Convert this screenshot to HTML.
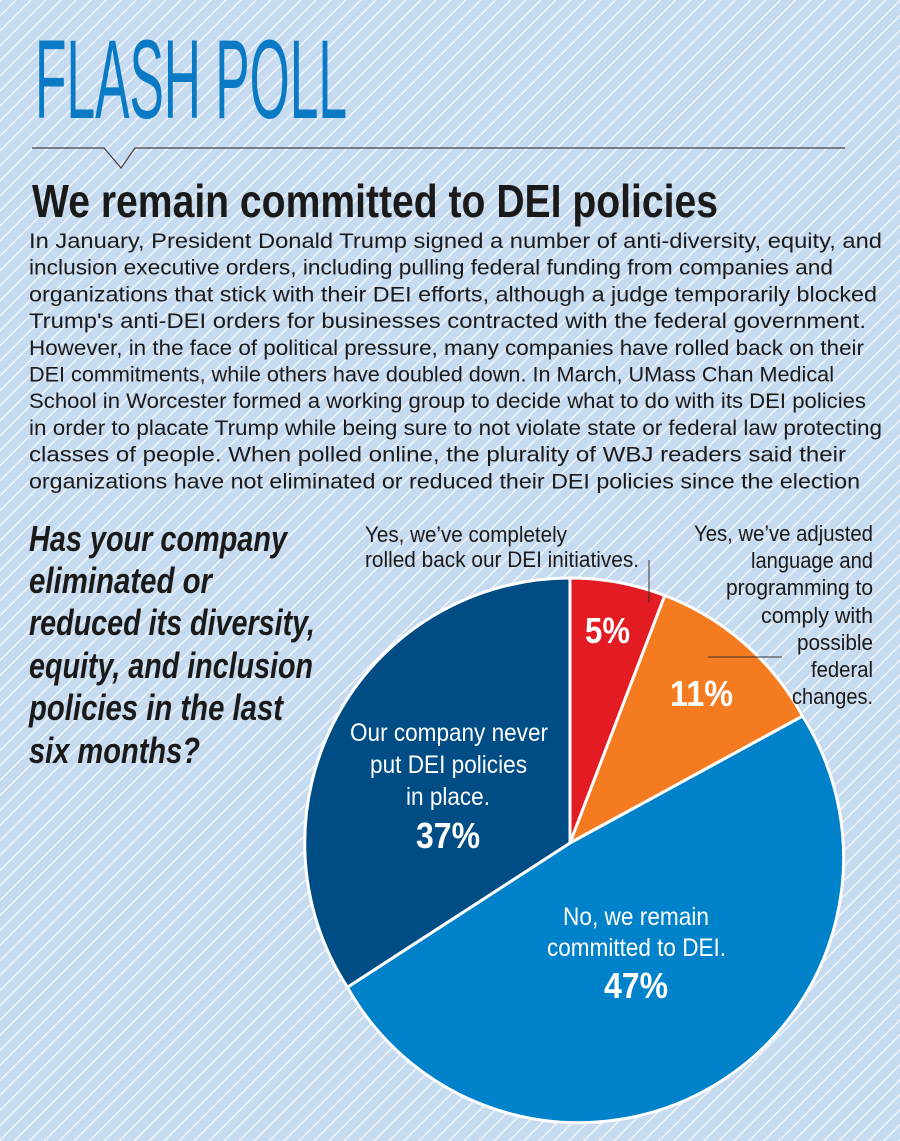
<!DOCTYPE html>
<html><head><meta charset="utf-8"><style>
html,body{margin:0;padding:0;width:900px;height:1141px;overflow:hidden;background:#c6dbef}
svg{display:block}
</style></head><body>
<svg width="900" height="1141" viewBox="0 0 900 1141" xmlns="http://www.w3.org/2000/svg">
<defs>
<pattern id="st" width="10.6" height="10.6" patternUnits="userSpaceOnUse" patternTransform="rotate(45)">
<rect width="10.6" height="10.6" fill="#c6dbef"/>
<rect x="0" y="0" width="1.4" height="10.6" fill="#f2f7fc"/>
</pattern>
</defs>
<rect width="900" height="1141" fill="url(#st)"/>
<text x="35" y="118" font-family="Liberation Sans, sans-serif" font-size="112" fill="#0a7ac4" textLength="312" lengthAdjust="spacingAndGlyphs">FLASH POLL</text>
<polyline points="32,148 104,148 121,168 135,148 845,148" fill="none" stroke="#444" stroke-width="1.3"/>
<text x="32" y="217" font-family="Liberation Sans, sans-serif" font-weight="bold" font-size="46" fill="#1a1a1a" textLength="686" lengthAdjust="spacingAndGlyphs">We remain committed to DEI policies</text>
<g font-family="Liberation Sans, sans-serif" font-size="21.5" fill="#1a1a1a">
<text x="29" y="248" textLength="853" lengthAdjust="spacingAndGlyphs">In January, President Donald Trump signed a number of anti-diversity, equity, and</text>
<text x="29" y="274.7" textLength="804" lengthAdjust="spacingAndGlyphs">inclusion executive orders, including pulling federal funding from companies and</text>
<text x="29" y="301.4" textLength="848" lengthAdjust="spacingAndGlyphs">organizations that stick with their DEI efforts, although a judge temporarily blocked</text>
<text x="29" y="328.1" textLength="837" lengthAdjust="spacingAndGlyphs">Trump's anti-DEI orders for businesses contracted with the federal government.</text>
<text x="29" y="354.8" textLength="835" lengthAdjust="spacingAndGlyphs">However, in the face of political pressure, many companies have rolled back on their</text>
<text x="29" y="381.5" textLength="805" lengthAdjust="spacingAndGlyphs">DEI commitments, while others have doubled down. In March, UMass Chan Medical</text>
<text x="29" y="408.2" textLength="837" lengthAdjust="spacingAndGlyphs">School in Worcester formed a working group to decide what to do with its DEI policies</text>
<text x="29" y="434.9" textLength="853" lengthAdjust="spacingAndGlyphs">in order to placate Trump while being sure to not violate state or federal law protecting</text>
<text x="29" y="461.6" textLength="817" lengthAdjust="spacingAndGlyphs">classes of people. When polled online, the plurality of WBJ readers said their</text>
<text x="29" y="488.3" textLength="831" lengthAdjust="spacingAndGlyphs">organizations have not eliminated or reduced their DEI policies since the election</text>
</g>
<g font-family="Liberation Sans, sans-serif" font-style="italic" font-weight="bold" font-size="36" fill="#1a1a1a">
<text x="29" y="551" textLength="258" lengthAdjust="spacingAndGlyphs">Has your company</text>
<text x="29" y="593" textLength="183" lengthAdjust="spacingAndGlyphs">eliminated or</text>
<text x="29" y="635" textLength="286" lengthAdjust="spacingAndGlyphs">reduced its diversity,</text>
<text x="29" y="678" textLength="284" lengthAdjust="spacingAndGlyphs">equity, and inclusion</text>
<text x="29" y="720" textLength="254" lengthAdjust="spacingAndGlyphs">policies in the last</text>
<text x="29" y="763" textLength="171" lengthAdjust="spacingAndGlyphs">six months?</text>
</g>
<g stroke="#fff" stroke-width="3" stroke-linejoin="round">
<circle cx="572" cy="846" r="267" fill="#a9bfd6" stroke="none" opacity="0.6"/>
<path d="M570,843 L570,578 A265,265 0 0 1 664.8,595.5 Z" fill="#e31b23"/>
<path d="M570,843 L664.8,595.5 A265,265 0 0 1 802.6,716.1 Z" fill="#f47b20"/>
<path d="M570,843 L802.6,716.1 A265,265 0 1 1 347.4,987.2 Z" fill="#0082ca"/>
<path d="M570,843 L347.4,987.2 A265,265 0 0 1 570,578 Z" fill="#004c85"/>
</g>
<line x1="649" y1="560" x2="649" y2="603" stroke="#333" stroke-width="1"/>
<line x1="708" y1="657" x2="782" y2="657" stroke="#333" stroke-width="1"/>
<g font-family="Liberation Sans, sans-serif" font-size="22" fill="#1a1a1a">
<text x="365" y="542" textLength="202" lengthAdjust="spacingAndGlyphs">Yes, we’ve completely</text>
<text x="365" y="567" textLength="274" lengthAdjust="spacingAndGlyphs">rolled back our DEI initiatives.</text>
<text x="694" y="541" textLength="179" lengthAdjust="spacingAndGlyphs">Yes, we’ve adjusted</text>
<text x="751" y="568" textLength="122" lengthAdjust="spacingAndGlyphs">language and</text>
<text x="726" y="595" textLength="147" lengthAdjust="spacingAndGlyphs">programming to</text>
<text x="761" y="623" textLength="112" lengthAdjust="spacingAndGlyphs">comply with</text>
<text x="797" y="650" textLength="76" lengthAdjust="spacingAndGlyphs">possible</text>
<text x="811" y="677" textLength="62" lengthAdjust="spacingAndGlyphs">federal</text>
<text x="792" y="704" textLength="81" lengthAdjust="spacingAndGlyphs">changes.</text>
</g>
<g font-family="Liberation Sans, sans-serif" fill="#fff">
<text x="585" y="643" font-size="36" font-weight="bold" textLength="45" lengthAdjust="spacingAndGlyphs">5%</text>
<text x="670" y="706" font-size="36" font-weight="bold" textLength="63" lengthAdjust="spacingAndGlyphs">11%</text>
<text x="350" y="741" font-size="25" textLength="198" lengthAdjust="spacingAndGlyphs">Our company never</text>
<text x="370" y="773" font-size="25" textLength="157" lengthAdjust="spacingAndGlyphs">put DEI policies</text>
<text x="406" y="805" font-size="25" textLength="84" lengthAdjust="spacingAndGlyphs">in place.</text>
<text x="416" y="848" font-size="36" font-weight="bold" textLength="64" lengthAdjust="spacingAndGlyphs">37%</text>
<text x="563" y="925" font-size="25" textLength="146" lengthAdjust="spacingAndGlyphs">No, we remain</text>
<text x="547" y="956" font-size="25" textLength="179" lengthAdjust="spacingAndGlyphs">committed to DEI.</text>
<text x="604" y="998" font-size="36" font-weight="bold" textLength="64" lengthAdjust="spacingAndGlyphs">47%</text>
</g>
</svg>
</body></html>
